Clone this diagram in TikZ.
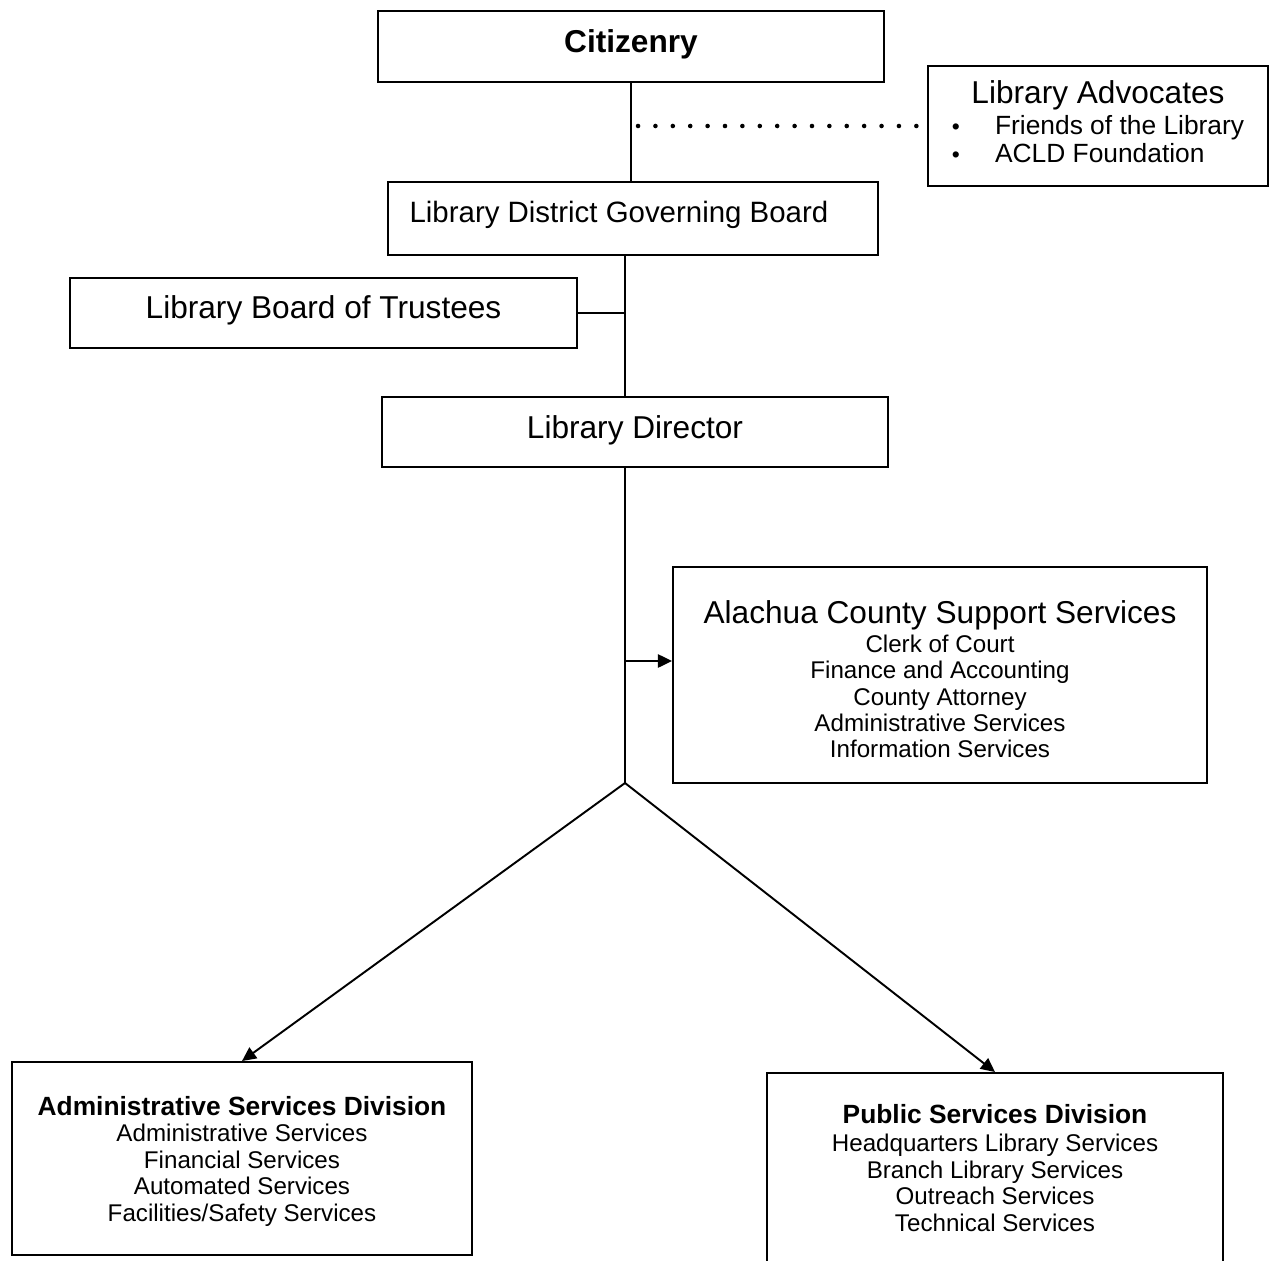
\documentclass[tikz,border=0pt]{standalone}
\usepackage{fontspec}
\setmainfont{Liberation Sans}
\usepackage{tikz}
\usetikzlibrary{positioning}
\usetikzlibrary{arrows.meta}
\tikzstyle{box}=[draw,line width=1.1pt,inner sep=0pt]
\tikzstyle{link}=[line width=1.1pt]
\tikzstyle{dotline}=[line width=2.6pt,line cap=round,dash pattern=on 0pt off 9.9pt]
\tikzstyle{arrow}=[link,-{Triangle[length=8pt,width=7.5pt]}]
\tikzstyle{big}=[font=\fontsize{18}{21}\selectfont]
\tikzstyle{small}=[font=\fontsize{13.75}{15}\selectfont,align=center]
\tikzset{>=latex}
\newcommand\bigtext{\fontsize{18}{21}\selectfont}
\newcommand\headtext{\fontsize{15}{17}\selectfont\bfseries}
\newcommand\dotitem{{\fontsize{13}{10}\selectfont\textbullet}}

\begin{document}
\begin{tikzpicture}[x=0.02cm,y=-0.02cm]
  \def\px{0.02cm} % one pixel of the page
  \def\sx{625}    % x of the main line

  % FRAME
  \path[use as bounding box,clip] (0,0) rectangle (1270,1260);

  % TOP OF THE CHART
  \node[box,big,minimum width=506*\px,minimum height=71*\px] (citizen) at (631,46.5) {\textbf{Citizenry}\rule[-6pt]{0pt}{6pt}};
  \node[box,minimum width=340*\px,minimum height=120*\px] (advocates) at (1098,126)
    {\fontsize{15}{16.4}\selectfont
     \begin{tabular}{@{}l@{\hspace{20pt}}l@{}}
       \multicolumn{2}{c}{\bigtext Library Advocates}\\[1pt]
       \dotitem & Friends of the Library\\
       \dotitem & ACLD Foundation
     \end{tabular}};
  \node[box,font=\fontsize{16.75}{20}\selectfont,minimum width=490*\px,minimum height=73*\px] (govboard) at (633,218.5)
    {Library District Governing Board\hspace{16pt}\rule[-8pt]{0pt}{8pt}};
  \node[box,big,minimum width=507*\px,minimum height=70*\px] (trustees) at (323.5,313) {Library Board of Trustees\rule[-7pt]{0pt}{7pt}};
  \node[box,big,minimum width=506*\px,minimum height=70*\px] (director) at (635,432) {Library Director\rule[-6pt]{0pt}{6pt}};

  % SUPPORT & DIVISIONS
  \node[box,small,minimum width=534*\px,minimum height=216*\px] (support) at (940,675)
    {{\rule{0pt}{18pt}\bigtext Alachua County Support Services}\\[1.5pt]
     Clerk of Court\\Finance and Accounting\\County Attorney\\Administrative Services\\Information Services};
  \node[box,small,minimum width=460*\px,minimum height=193*\px] (admin) at (242,1158.5)
    {{\rule{0pt}{14pt}\headtext Administrative Services Division}\\
     Administrative Services\\Financial Services\\Automated Services\\Facilities/Safety Services};
  \node[box,small,minimum width=456*\px,minimum height=190*\px] (public) at (995,1168)
    {{\headtext Public Services Division}\\[1pt]
     Headquarters Library Services\\Branch Library Services\\Outreach Services\\Technical Services};

  % LINES
  \coordinate (fork) at (\sx,783);
  \coordinate (tap) at (\sx,661);
  \draw[link] (citizen.south) -- (citizen.south |- govboard.north);
  \draw[dotline,shorten <=4pt,shorten >=5.7pt] (citizen.south |- advocates.west) -- (advocates.west);
  \draw[link] (govboard.south -| fork) -- (director.north -| fork);
  \draw[link] (trustees.east) -- (trustees.east -| fork);
  \draw[link] (director.south -| fork) -- (fork);
  \draw[arrow] (tap) -- (tap -| support.west);
  \draw[arrow] (fork) -- (admin.north);
  \draw[arrow] (fork) -- (public.north);

\end{tikzpicture}
\end{document}
